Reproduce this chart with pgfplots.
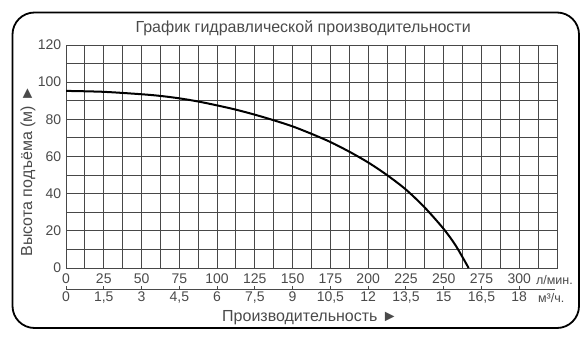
\documentclass[border=0pt]{standalone}
\usepackage{fontspec}
\setmainfont{Liberation Sans}
\usepackage{pgfplots}
\pgfplotsset{compat=1.18}
\definecolor{txt}{HTML}{4A4A4A}
\definecolor{gridc}{HTML}{484848}
\begin{document}
\fontsize{14}{16}\selectfont
\begin{tikzpicture}[x=1pt,y=1pt]
\useasboundingbox (0,0) rectangle (586,341);
\draw[line width=1.8pt, rounded corners=22pt] (12.5,13) rectangle (579,328.5);
\begin{axis}[
  at={(66pt,73pt)}, anchor=south west,
  scale only axis, width=491pt, height=223pt,
  clip mode=individual,
  xmin=0, xmax=325, ymin=0, ymax=120,
  xtick={0,25,...,300}, minor xtick={12.5,37.5,...,312.5},
  ytick={0,20,...,120}, minor ytick={10,30,...,110},
  xticklabels={0,25,50,75,100,125,150,175,200,225,250,275,300},
  grid=both,
  major grid style={gridc, line width=1pt},
  minor grid style={gridc, line width=1pt},
  axis line style={gridc, line width=1pt},
  tick style={draw=none},
  tick label style={text=txt, font=\fontsize{14}{16}\selectfont},
  xticklabel style={yshift=-1pt},
  /pgf/number format/assume math mode=true,
  title={График гидравлической производительности},
  every axis title/.style={at={(axis description cs:0.483,1.076)}, anchor=center, text=txt, font=\fontsize{16}{18}\selectfont},
  ylabel={Высота подъёма (м) ►},
  every axis y label/.style={at={(axis description cs:-0.0774,0.435)}, rotate=90, anchor=center, text=txt, font=\fontsize{16}{18}\selectfont},
  xlabel={Производительность ►},
  every axis x label/.style={at={(axis description cs:0.497,-0.224)}, anchor=center, text=txt, font=\fontsize{16}{18}\selectfont},
]
\addplot[black, line width=2pt, smooth] coordinates {
(0,95.3) (25,94.8) (50,93.5) (62.5,92.6) (75,91.3) (87.5,89.6) (100,87.5)
(112.5,85.2) (125,82.5) (137.5,79.5) (150,76.2) (162.5,72.2) (175,67.8)
(187.5,62.6) (200,56.8) (212.5,50) (225,42.2) (237.5,32.5) (250,21)
(258,12) (266.5,0)
};
\draw[txt, line width=0.9pt] ([yshift=-21pt]rel axis cs:0,0) -- ([yshift=-21pt,xshift=-2pt]rel axis cs:1,0);
\pgfplotsinvokeforeach{0,25,...,300}{
  \draw[txt, line width=0.9pt] ([yshift=-18pt]axis cs:#1,0) -- ([yshift=-22pt]axis cs:#1,0);
}
\node[anchor=west, text=txt, font=\fontsize{12.5}{14}\selectfont] at ([xshift=12pt,yshift=-12pt]axis cs:300,0) {л/мин.};
\node[anchor=west, text=txt, font=\fontsize{12.5}{14}\selectfont] at ([xshift=14pt,yshift=-30pt]axis cs:300,0) {м³/ч.};
\end{axis}
\begin{axis}[
  at={(66pt,73pt)}, anchor=south west,
  scale only axis, width=491pt, height=223pt,
  xmin=0, xmax=325, ymin=0, ymax=120,
  axis line style={draw=none},
  tick style={draw=none},
  ytick=\empty,
  xtick={0,25,...,300},
  xticklabels={0,{1,5},3,{4,5},6,{7,5},9,{10,5},12,{13,5},15,{16,5},18},
  tick label style={text=txt, font=\fontsize{14}{16}\selectfont},
  xticklabel style={yshift=-19pt},
]
\addplot[draw=none] coordinates {(0,0)};
\end{axis}
\end{tikzpicture}
\end{document}
